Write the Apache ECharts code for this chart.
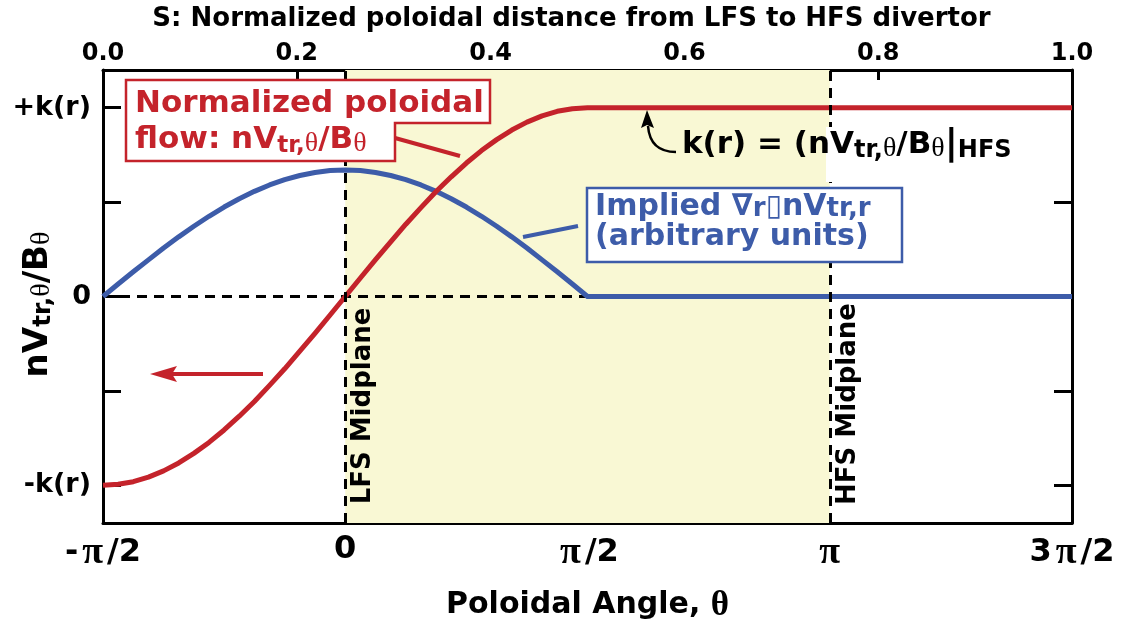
<!DOCTYPE html>
<html><head><meta charset="utf-8">
<script src="https://cdn.jsdelivr.net/npm/echarts@6/dist/echarts.min.js"></script>
<style>html,body{margin:0;padding:0;background:#fff}#c{width:1124px;height:624px}</style>
</head><body><div id="c"></div>
<script>
// ---- data (x in units of pi/2: -1 = -pi/2 ... 3 = 3pi/2) ----
const thetaHalfPi = [-1,-0.9375,-0.875,-0.8125,-0.75,-0.6875,-0.625,-0.5625,-0.5,-0.4375,-0.375,-0.3125,-0.25,-0.1875,-0.125,-0.0625,
  0,0.0625,0.125,0.1875,0.25,0.3125,0.375,0.4375,0.5,0.5625,0.625,0.6875,0.75,0.8125,0.875,0.9375,1,2,3];
const flowValues  = [-1.000,-0.995,-0.981,-0.957,-0.924,-0.882,-0.831,-0.773,-0.707,-0.634,-0.556,-0.471,-0.383,-0.290,-0.195,-0.098,
  0.000,0.098,0.195,0.290,0.383,0.471,0.556,0.634,0.707,0.773,0.831,0.882,0.924,0.957,0.981,0.995,1.000,1.000,1.000];
const gradValues  = [0.000,0.066,0.131,0.194,0.257,0.316,0.372,0.425,0.474,0.518,0.557,0.591,0.619,0.641,0.657,0.667,
  0.670,0.667,0.657,0.641,0.619,0.591,0.557,0.518,0.474,0.425,0.372,0.316,0.257,0.194,0.131,0.066,0.000,0.000,0.000];
const thetaTickValues = [-1,0,1,2,3];
const thetaTickLabels = ['-π/2','0','π/2','π','3π/2'];
const yTickValues = [-1,0,1];
const yTickLabels = ['-k(r)','0','+k(r)'];
const yTickMarks = [-1,-0.5,0,0.5,1];
const sAxisRange = [0,1];
const shadedRange = [0,2];      // theta 0 .. pi
const midplanes = [0,2];        // LFS (0), HFS (pi)
const zeroRefRange = [-1,1];    // dashed zero line from -pi/2 to pi/2

const RED='#C4232B', BLUE='#3D5CA9', YELLOW='#F9F8D4';
const SANS='DejaVu Sans', SERIF='Liberation Serif';

const chart = echarts.init(document.getElementById('c'));

const axisLineStyle = {color:'#000', width:3};
const tickStyle = {color:'#000', width:3};

function richMain(fill, size, lh){ return {fontFamily:SANS, fontWeight:'bold', fontSize:size, lineHeight:lh, fill:fill}; }
function richSub(fill, size){ return {fontFamily:SANS, fontWeight:'bold', fontSize:size, lineHeight:size, verticalAlign:'bottom', fill:fill}; }
function richTh(fill, size){ return {fontFamily:SERIF, fontWeight:'normal', fontSize:size, lineHeight:size, verticalAlign:'bottom', fill:fill}; }

const option = {
  animation:false,
  backgroundColor:'#fff',
  grid:{left:103, right:52, top:70, bottom:101, containLabel:false, outerBoundsMode:'none'},
  xAxis:[{
    type:'value', position:'bottom', min:thetaTickValues[0], max:thetaTickValues[thetaTickValues.length-1], interval:1,
    axisLine:{show:true,onZero:false,lineStyle:axisLineStyle},
    axisTick:{show:true,inside:true,length:10,lineStyle:tickStyle},
    splitLine:{show:false},
    axisLabel:{show:true, margin:11, showMinLabel:true, showMaxLabel:true, hideOverlap:false,
      fontFamily:SANS, fontWeight:'bold', fontSize:32, color:'#000',
      formatter:function(v){ const i=thetaTickValues.indexOf(Math.round(v)); const s=i>=0?thetaTickLabels[i]:''; return s.replace(/π/g,'{p|π}'); },
      rich:{p:{fontFamily:SERIF, fontSize:38, color:'#000', padding:[0,4,0,4]}}},
    name:'Poloidal Angle, {t|θ}', nameLocation:'middle', nameGap:65, nameMoveOverlap:false,
    nameTextStyle:{fontFamily:SANS, fontWeight:'bold', fontSize:30, color:'#000',
      rich:{t:{fontFamily:SERIF, fontSize:35, color:'#000'}}}
  },{
    type:'value', position:'top', min:sAxisRange[0], max:sAxisRange[1], interval:0.2,
    axisLine:{show:true,onZero:false,lineStyle:axisLineStyle},
    axisTick:{show:true,inside:true,length:10,lineStyle:tickStyle},
    splitLine:{show:false},
    axisLabel:{show:true, margin:4, hideOverlap:false, fontFamily:SANS, fontWeight:'bold', fontSize:24, color:'#000',
      formatter:function(v){return v.toFixed(1);}},
    name:'S: Normalized poloidal distance from LFS to HFS divertor', nameLocation:'middle', nameGap:38, nameMoveOverlap:false,
    nameTextStyle:{fontFamily:SANS, fontWeight:'bold', fontSize:26, color:'#000', padding:[0,32,0,0]}
  }],
  yAxis:[{
    type:'value', position:'left', min:-1.2, max:1.2,
    axisLine:{show:true,onZero:false,lineStyle:axisLineStyle},
    axisTick:{show:true,inside:true,length:18,lineStyle:tickStyle, customValues:yTickMarks},
    splitLine:{show:false},
    axisLabel:{show:true, margin:12, hideOverlap:false, customValues:yTickValues, fontFamily:SANS, fontWeight:'bold', fontSize:27, color:'#000',
      formatter:function(v){ const i=yTickValues.indexOf(v); return i>=0?yTickLabels[i]:''; }},
    name:'{a|nV}{s|tr,}{t|θ}{a|/B}{t|θ}', nameLocation:'middle', nameRotate:90, nameGap:47, nameMoveOverlap:false,
    nameTextStyle:{padding:[0,16,0,0], rich:{
      a:{fontFamily:SANS, fontWeight:'bold', fontSize:34, lineHeight:36, color:'#000'},
      s:{fontFamily:SANS, fontWeight:'bold', fontSize:25, lineHeight:24, verticalAlign:'bottom', color:'#000'},
      t:{fontFamily:SERIF, fontSize:28, lineHeight:24, verticalAlign:'bottom', color:'#000'}}}
  },{
    type:'value', position:'right', min:-1.2, max:1.2,
    axisLine:{show:true,onZero:false,lineStyle:axisLineStyle},
    axisTick:{show:true,inside:true,length:18,lineStyle:tickStyle, customValues:yTickMarks},
    splitLine:{show:false},
    axisLabel:{show:false}
  }],
  series:[{
    name:'shade', type:'line', data:[], z:1, silent:true,
    markArea:{silent:true, itemStyle:{color:YELLOW}, data:[[{xAxis:shadedRange[0]},{xAxis:shadedRange[1]}]]}
  },{
    name:'zeroRef', type:'line', z:2, silent:true, symbol:'none',
    data:[[zeroRefRange[0],0],[zeroRefRange[1],0]],
    lineStyle:{color:'#000', width:3, type:[10,7]},
    markLine:{silent:true, symbol:'none', label:{show:false},
      lineStyle:{color:'#000', width:3, type:[10,7]},
      data:midplanes.map(function(v){return {xAxis:v};})}
  },{
    name:'Implied grad', type:'line', z:3, symbol:'none', smooth:false,
    data:thetaHalfPi.map(function(x,i){return [x,gradValues[i]];}),
    lineStyle:{color:BLUE, width:5, join:'round'}
  },{
    name:'Normalized poloidal flow', type:'line', z:4, symbol:'none', smooth:false,
    data:thetaHalfPi.map(function(x,i){return [x,flowValues[i]];}),
    lineStyle:{color:RED, width:5, join:'round'}
  }],
  graphic:[
    // red annotation box
    {type:'polygon', z:100, shape:{points:[[126,80],[490,80],[490,123],[395,123],[395,161],[126,161]]},
      style:{fill:'#fff', stroke:RED, lineWidth:2.5}},
    {type:'text', z:101, x:135, y:86, style:{
      text:'{a|Normalized poloidal}\n{a|flow: nV}{s|tr,}{t|θ}{a|/B}{t|θ}',
      verticalAlign:'top', align:'left',
      rich:{a:richMain(RED,31,36), s:richSub(RED,23), t:richTh(RED,28)}}},
    {type:'line', z:100, shape:{x1:395,y1:138,x2:460,y2:156}, style:{stroke:RED, lineWidth:4}},
    // blue annotation box
    {type:'rect', z:100, shape:{x:587,y:188,width:315,height:74}, style:{fill:'#fff', stroke:BLUE, lineWidth:2.5}},
    {type:'text', z:101, x:595, y:192, style:{
      text:'{a|Implied ∇}{s|r}{a|▯nV}{s|tr,r}\n{a|(arbitrary units)}',
      verticalAlign:'top', align:'left',
      rich:{a:richMain(BLUE,30,30), s:richSub(BLUE,26)}}},
    {type:'line', z:100, shape:{x1:523,y1:237,x2:578,y2:226}, style:{stroke:BLUE, lineWidth:4}},
    // k(r) annotation
    {type:'rect', z:99, shape:{x:826,y:127,width:200,height:55}, style:{fill:'#fff'}},
    {type:'text', z:101, x:682, y:127, style:{
      text:'{a|k(r) = (nV}{s|tr,}{t|θ}{a|/B}{t|θ}{b||}{s|HFS}',
      verticalAlign:'top', align:'left',
      rich:{a:richMain('#000',31,36), s:richSub('#000',24), t:richTh('#000',28), b:{fontFamily:SANS,fontWeight:'bold',fontSize:36,lineHeight:36,fill:'#000'}}}},
    {type:'bezierCurve', z:100, shape:{x1:648,y1:126,cpx1:650,cpy1:152,x2:676,y2:152}, style:{stroke:'#000', lineWidth:2.5, fill:null}},
    {type:'polygon', z:100, shape:{points:[[647,110],[641,128],[647,125],[654,128]]}, style:{fill:'#000'}},
    // red left arrow
    {type:'line', z:100, shape:{x1:263,y1:374,x2:170,y2:374}, style:{stroke:RED, lineWidth:4}},
    {type:'polygon', z:100, shape:{points:[[150,374],[177,366],[172,374],[177,382]]}, style:{fill:RED}},
    // midplane labels
    {type:'text', z:101, x:363, y:406, rotation:Math.PI/2, style:{text:'LFS Midplane', align:'center', verticalAlign:'middle',
      font:'bold 26px "DejaVu Sans"', fill:'#000'}},
    {type:'text', z:101, x:848, y:404, rotation:Math.PI/2, style:{text:'HFS Midplane', align:'center', verticalAlign:'middle',
      font:'bold 26px "DejaVu Sans"', fill:'#000'}}
  ]
};
chart.setOption(option);
</script></body></html>
